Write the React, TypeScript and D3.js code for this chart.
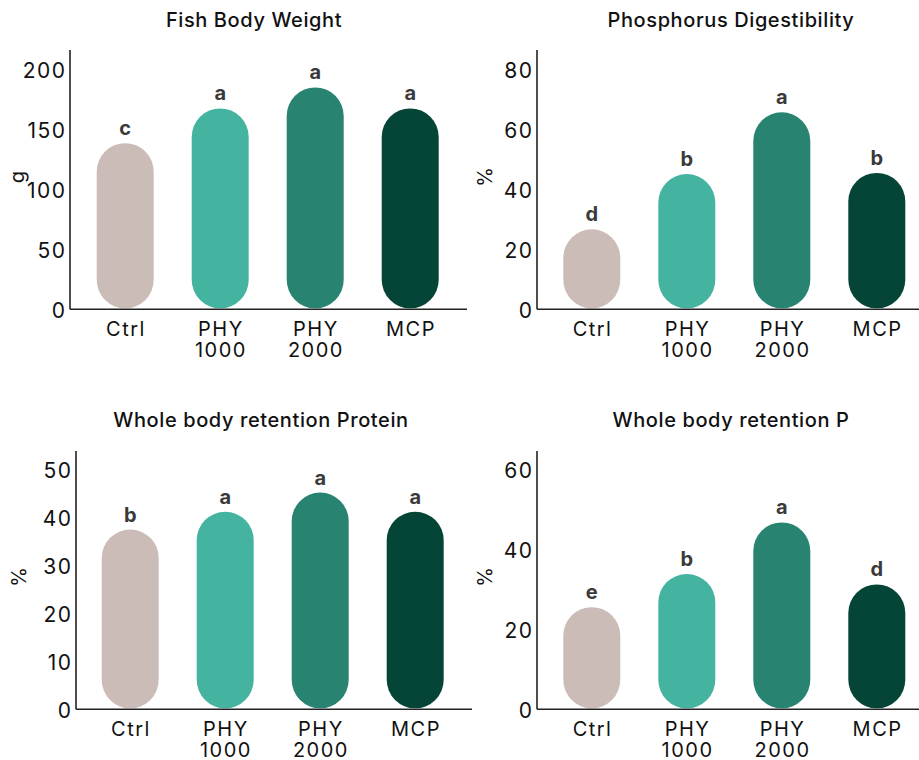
import React from "react";
import * as d3 from "d3";

const categories = ["Ctrl", "PHY 1000", "PHY 2000", "MCP"];
const colors = ["#CBBCB8", "#44B4A0", "#288371", "#054537"];

const titles = [
  "Fish Body Weight",
  "Phosphorus Digestibility",
  "Whole body retention Protein",
  "Whole body retention P",
];
const yLabels = ["g", "%", "%", "%"];

const weightValues = [139, 168, 185.5, 168];
const phosDigValues = [26.9, 45.3, 65.9, 45.7];
const proteinRetValues = [37.6, 41.3, 45.3, 41.3];
const pRetValues = [25.7, 34, 46.9, 31.4];

const weightLetters = ["c", "a", "a", "a"];
const phosDigLetters = ["d", "b", "a", "b"];
const proteinRetLetters = ["b", "a", "a", "a"];
const pRetLetters = ["e", "b", "a", "d"];

const weightTicks = [0, 50, 100, 150, 200];
const phosDigTicks = [0, 20, 40, 60, 80];
const proteinRetTicks = [0, 10, 20, 30, 40, 50];
const pRetTicks = [0, 20, 40, 60];

const seriesValues = [weightValues, phosDigValues, proteinRetValues, pRetValues];
const seriesLetters = [weightLetters, phosDigLetters, proteinRetLetters, pRetLetters];
const seriesTicks = [weightTicks, phosDigTicks, proteinRetTicks, pRetTicks];

// layout (positions only)
const layouts = [
  { axisX: 70, top: 50, y0: 310, yTopTick: 70, band: [77.7, 457.7], xEnd: 467, titleX: 254, titleY: 27, labX: 17, labY: 177 },
  { axisX: 537, top: 50, y0: 310, yTopTick: 70, band: [544.3, 924.3], xEnd: 919, titleX: 731, titleY: 27, labX: 485, labY: 177 },
  { axisX: 76, top: 451, y0: 710, yTopTick: 470, band: [82.7, 462.7], xEnd: 472, titleX: 261, titleY: 427, labX: 19, labY: 577 },
  { axisX: 537, top: 451, y0: 710, yTopTick: 470, band: [544.3, 924.3], xEnd: 919, titleX: 731, titleY: 427, labX: 485, labY: 577 },
];

const FONT = "Inter, 'Open Sans', sans-serif";

function Panel({ i }: { i: number }) {
  const L = layouts[i];
  const values = seriesValues[i];
  const letters = seriesLetters[i];
  const ticks = seriesTicks[i];
  const maxTick = ticks[ticks.length - 1];
  const y = d3.scaleLinear().domain([0, maxTick]).range([L.y0, L.yTopTick]);
  const x = d3
    .scaleBand<string>()
    .domain(categories)
    .range(L.band as [number, number])
    .paddingInner(0.4)
    .paddingOuter(0.2);
  const bw = x.bandwidth();
  const axisY = L.y0 - 0.7;
  return (
    <g>
      <text
        x={L.titleX}
        y={L.titleY}
        textAnchor="middle"
        fontSize={20}
        fontWeight={500}
        letterSpacing={0.6}
        fill="#111"
        fontFamily={FONT}
      >
        {titles[i]}
      </text>
      <text
        transform={`translate(${L.labX},${L.labY}) rotate(-90)`}
        textAnchor="middle"
        dominantBaseline="central"
        fontSize={20}
        fill="#111"
        fontFamily={FONT}
      >
        {yLabels[i]}
      </text>
      {ticks.map((t) => (
        <text
          key={t}
          x={L.axisX - 3.5}
          y={y(t)}
          textAnchor="end"
          dominantBaseline="central"
          fontSize={21}
          letterSpacing={1.5}
          fill="#111"
          fontFamily={FONT}
        >
          {t}
        </text>
      ))}
      {categories.map((c, k) => {
        const x0 = x(c)!;
        const top = y(values[k]);
        const h = axisY - 1 - top;
        const parts = c.split(" ");
        return (
          <g key={c}>
            <rect x={x0} y={top} width={bw} height={h} rx={bw / 2} ry={bw / 2} fill={colors[k]} />
            <text
              x={x0 + bw / 2}
              y={top - 8}
              textAnchor="middle"
              fontSize={20}
              fontWeight={700}
              fill="#3a3a3a"
              fontFamily={FONT}
            >
              {letters[k]}
            </text>
            {parts.map((p, j) => (
              <text
                key={j}
                x={x0 + bw / 2 + 0.75}
                y={axisY + 27 + j * 21}
                textAnchor="middle"
                fontSize={20}
                letterSpacing={1.5}
                fill="#111"
                fontFamily={FONT}
              >
                {p}
              </text>
            ))}
          </g>
        );
      })}
      <line x1={L.axisX} x2={L.axisX} y1={L.top} y2={axisY} stroke="#222" strokeWidth={1.6} />
      <line x1={L.axisX} x2={L.xEnd} y1={axisY} y2={axisY} stroke="#222" strokeWidth={1.6} />
    </g>
  );
}

export default function App() {
  return (
    <svg
      width={919}
      height={760}
      style={{ position: "absolute", left: 0, top: 0, background: "#fff" }}
    >
      <rect width={919} height={760} fill="#fff" />
      {layouts.map((_, i) => (
        <Panel key={i} i={i} />
      ))}
    </svg>
  );
}
